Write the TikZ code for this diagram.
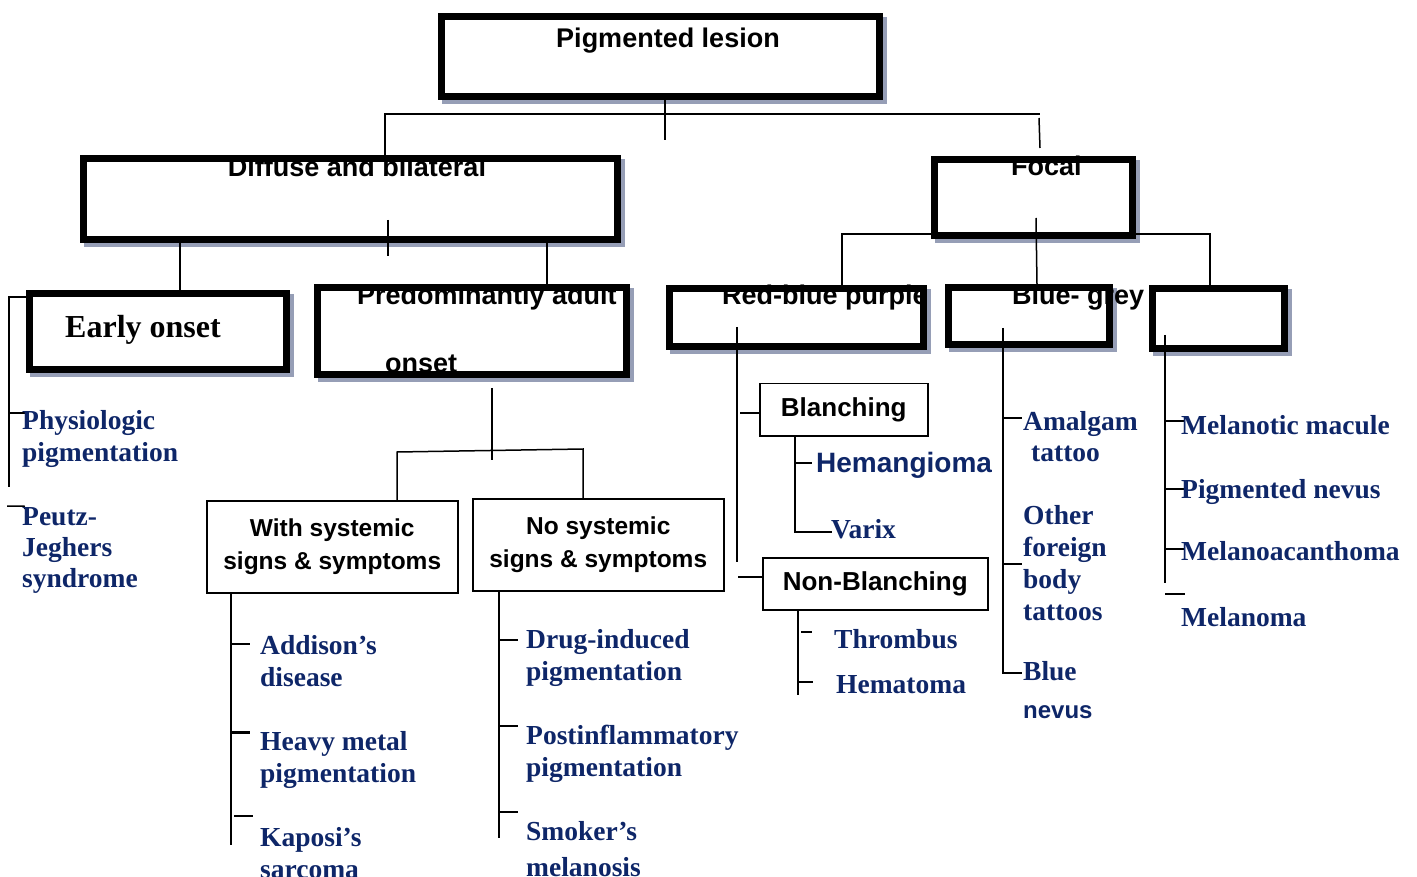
\documentclass[tikz,border=0pt]{standalone}
\usepackage{fontspec}
\setmainfont{Liberation Serif}
\newfontfamily\arialf{Liberation Sans}
\definecolor{navyc}{RGB}{14,38,104}
\definecolor{shadowc}{RGB}{150,158,182}
\newcommand{\mlines}[1]{\begin{tabular}[t]{@{}l@{}}#1\end{tabular}}
\newcommand{\tboxfill}[5]{%
  \fill[shadowc] (#2+4,#3+4) rectangle (#4+4,#5+4);
  \node[boxfill, minimum width=#4pt-#2pt, minimum height=#5pt-#3pt] (#1) at (#2,#3) {};}
\newcommand{\tborder}[1]{%
  \draw[thickborder] ([shift={(3.5,3.5)}]#1.north west) rectangle ([shift={(-3.5,-3.5)}]#1.south east);}
\tikzset{
  conn/.style={line width=1.5pt, black},
  thickborder/.style={line width=7pt, black},
  boxfill/.style={fill=white, draw=none, inner sep=0pt, anchor=north west},
  thinbox/.style={draw=black, line width=1.5pt, fill=white, inner sep=0pt, anchor=north west, align=center},
  serifl/.style={anchor=base west, inner sep=0pt, text=navyc, font=\fontsize{27.5}{32}\selectfont\bfseries},
  sansl/.style={anchor=base west, inner sep=0pt, font=\arialf\fontsize{27}{32}\selectfont\bfseries},
  boxlbl/.style={font=\arialf\fontsize{24.5}{33}\selectfont\bfseries},
  boxlblb/.style={font=\arialf\fontsize{26}{30}\selectfont\bfseries},
}
\begin{document}
\begin{tikzpicture}[x=1pt,y=-1pt]
\useasboundingbox (0,0) rectangle (1417,877);
% ---- thick box fills (with shadow)
\tboxfill{top}{438}{13}{883}{100}
\tboxfill{diffuse}{80}{155}{621}{243}
\tboxfill{early}{26}{290}{290}{373}
\tboxfill{predom}{314}{284}{630}{378}
\tboxfill{focal}{931}{156}{1136}{239}
\tboxfill{redblue}{666}{285}{927}{350}
\tboxfill{bluegrey}{945}{284}{1113}{348}
\tboxfill{brown}{1149}{285}{1288}{352}
% ---- named coordinates for connector ends
\coordinate (topdrop) at (665,140);
\coordinate (hjL) at (385,114);
\coordinate (hjR) at (1040,114);
\coordinate (fA) at (1039,118);
\coordinate (fB) at (1040,148);
\coordinate (dIn) at (388,220);
\coordinate (dOut) at (388,256);
\coordinate (pA) at (492,388);
\coordinate (pB) at (492,460);
% ---- connectors
\draw[conn] (top.south -| topdrop) -- (topdrop);
\draw[conn] (385,155) -- (hjL) -- (hjR);
\draw[conn] (fA) -- (fB);
\draw[conn] (dIn) -- (dOut);
\draw[conn] (180,243) -- (180,290);
\draw[conn] (547,243) -- (547,284);
% early onset branch
\draw[conn] (8,297) -- (27,297);
\draw[conn] (9,297) -- (9,487);
\draw[conn] (9,413) -- (27,413);
\draw[conn] (7,506) -- (24,506) -- (25,509);
% predominantly branch
\draw[conn] (pA) -- (pB);
\draw[conn] (397,500) -- (397,452) -- (583,449) -- (583,498);
% with systemic list
\draw[conn] (231,590) -- (231,845);
\draw[conn] (231,644) -- (250,644);
\draw[conn, line width=3pt] (231,732) -- (250,732);
\draw[conn] (234,816) -- (253,816);
% no systemic list
\draw[conn] (499,588) -- (499,838);
\draw[conn] (499,640) -- (518,640);
\draw[conn] (499,726) -- (518,726);
\draw[conn] (499,812) -- (518,812);
% focal branch
\draw[conn] (1036,218) -- (1037,284);
\draw[conn] (931,234) -- (842,234) -- (842,285);
\draw[conn] (1136,234) -- (1210,234) -- (1210,285);
% red-blue branch
\draw[conn] (737,327) -- (737,562);
\draw[conn] (740,413) -- (759,413);
\draw[conn] (738,577) -- (762,577);
\draw[conn] (795,432) -- (795,532) -- (832,532);
\draw[conn] (795,463) -- (812,463);
\draw[conn] (798,609) -- (798,695);
\draw[conn] (801,632) -- (812,632);
\draw[conn] (798,682) -- (813,682);
% blue-grey branch
\draw[conn] (1003,328) -- (1003,673) -- (1022,673);
\draw[conn] (1003,418) -- (1022,418);
\draw[conn] (1003,564) -- (1022,564);
% brown branch
\draw[conn] (1165,335) -- (1165,583);
\draw[conn] (1165,421) -- (1185,421);
\draw[conn] (1165,489) -- (1185,489);
\draw[conn] (1165,549) -- (1185,549);
\draw[conn] (1165,594) -- (1185,594);
% ---- thin boxes
\node[thinbox, boxlbl, minimum width=251pt, minimum height=92pt] (withs) at (206,500) {With systemic\\signs \& symptoms};
\node[thinbox, boxlbl, minimum width=251pt, minimum height=92pt] (nos) at (472,498) {No systemic\\signs \& symptoms};
\node[thinbox, boxlblb, minimum width=168pt, minimum height=52pt] (blanch) at (759,383) {Blanching};
\node[thinbox, boxlblb, minimum width=225pt, minimum height=52pt] (nonbl) at (762,557) {Non-Blanching};
% ---- box labels
\node[sansl, anchor=base] (tTxt) at (668,48) {Pigmented lesion};
\node[sansl, anchor=base] (dTxt) at (357,177) {Diffuse and bilateral};
\node[sansl] (pTxt1) at (357,305) {Predominantly adult};
\node[sansl] (pTxt2) at (385,373) {onset};
\node[sansl] (fTxt) at (1011,176) {Focal};
\node[sansl] (rTxt) at (722,305) {Red-blue purple};
\node[sansl] (bTxt) at (1012,305) {Blue- grey};
\node[anchor=base west, inner sep=0pt, font=\fontsize{32}{36}\selectfont\bfseries] (eTxt) at (65,338) {Early onset};
% ---- list labels
\node[serifl] (physio) at (22,429) {\mlines{Physiologic\\pigmentation}};
\node[serifl] (peutz) at (22,525) {\mlines{Peutz-\\[-1pt]Jeghers\\[-1pt]syndrome}};
\node[serifl] (addison) at (260,654) {\mlines{Addison’s\\disease}};
\node[serifl] (heavy) at (260,750) {\mlines{Heavy metal\\pigmentation}};
\node[serifl] (kaposi) at (260,846) {\mlines{Kaposi’s\\sarcoma}};
\node[serifl] (drug) at (526,648) {\mlines{Drug-induced\\pigmentation}};
\node[serifl] (postinf) at (526,744) {\mlines{Postinflammatory\\pigmentation}};
\node[serifl] (smoker) at (526,840) {\mlines{Smoker’s\\[4pt]melanosis}};
\node[sansl, text=navyc, font=\arialf\fontsize{28}{32}\selectfont\bfseries] (hemang) at (816,472) {Hemangioma};
\node[serifl] (varix) at (831,538) {Varix};
\node[serifl] (thromb) at (834,648) {Thrombus};
\node[serifl] (hemat) at (836,693) {Hematoma};
\node[serifl] (amalgam) at (1023,430) {\mlines{Amalgam\\\hspace{8pt}tattoo}};
\node[serifl] (other) at (1023,524) {\mlines{Other\\foreign\\body\\tattoos}};
\node[serifl] (blue) at (1023,680) {Blue};
\node[sansl, text=navyc, font=\arialf\fontsize{24}{30}\selectfont\bfseries] (nevus) at (1023,718) {nevus};
\node[serifl] (melmac) at (1181,434) {Melanotic macule};
\node[serifl] (pignev) at (1181,498) {Pigmented nevus};
\node[serifl] (melacan) at (1181,560) {Melanoacanthoma};
\node[serifl] (melanoma) at (1181,626) {Melanoma};
% ---- thick borders on top
\tborder{top}
\tborder{diffuse}
\tborder{early}
\tborder{predom}
\tborder{focal}
\tborder{redblue}
\tborder{bluegrey}
\tborder{brown}
\end{tikzpicture}
\end{document}
